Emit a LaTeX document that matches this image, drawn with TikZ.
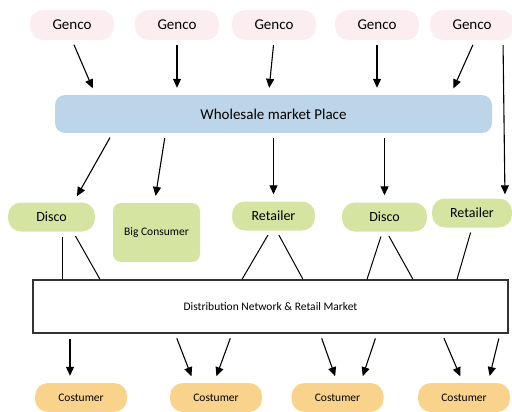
\documentclass[tikz,border=0pt]{standalone}
\usepackage{fontspec}
\setmainfont{Carlito}
\usetikzlibrary{arrows.meta}
\definecolor{gencopink}{HTML}{FCEDF0}
\definecolor{marketblue}{HTML}{BDD5E8}
\definecolor{discogreen}{HTML}{D6E4A2}
\definecolor{custorange}{HTML}{F9D38C}
\tikzset{
	genco/.style={rectangle, rounded corners=13pt, fill=gencopink, minimum width=84pt, minimum height=30pt, font=\fontsize{15}{17}\selectfont},
	seller/.style={rectangle, rounded corners=13pt, fill=discogreen, minimum height=29pt, font=\fontsize{14}{16}\selectfont},
	custbox/.style={rectangle, rounded corners=13pt, fill=custorange, minimum width=92pt, minimum height=29pt, font=\fontsize{11.5}{13}\selectfont},
	arr/.style={line width=1.1pt, -{Triangle[length=9pt,width=8pt]}, shorten <=5pt, shorten >=7pt},
	link/.style={line width=1pt, shorten <=5pt}
}
\begin{document}
\begin{tikzpicture}[x=1pt, y=-1pt]
			\useasboundingbox (0,0) rectangle (512,412);
			%generation companies
			\foreach \x/\n in {72/1, 177/2, 274/3, 377/4, 472/5}{
				\node[genco] (g\n) at (\x, 25){Genco};
			}
			\node[rectangle, rounded corners=10pt, fill=marketblue, minimum width=437pt, minimum height=38pt, font=\fontsize{15}{17}\selectfont] (wm) at (273.5, 114){Wholesale market Place};
			
			\draw[arr] (g1.south) -- ([xshift=-178]wm.north);
			\draw[arr] (g2.south) -- (g2.south |- wm.north);
			\draw[arr] (g3.south) -- ([xshift=-5]wm.north);
			\draw[arr] (g4.south) -- (g4.south |- wm.north);
			\draw[arr] ([xshift=3]g5.south) -- ([xshift=177]wm.north);
			
			%discos, retailers
			\node[seller, minimum width=87pt] (d1) at (51.5, 217){Disco};
			\node[seller, rounded corners=8pt, minimum width=87pt, minimum height=59pt, font=\fontsize{11.5}{13}\selectfont] (bc) at (156.5, 232.5){Big Consumer};
			\node[seller, minimum width=83pt] (r1) at (273.5, 216){Retailer};
			\node[seller, minimum width=85pt] (d2) at (384.5, 217){Disco};
			\node[seller, minimum width=80pt] (r2) at (472, 213){Retailer};
			
			\draw[arr] ([xshift=-161]wm.south) -- ([xshift=22]d1.north);
			\draw[arr] ([xshift=-108]wm.south) -- ([xshift=-2]bc.north);
			\draw[arr] (r1.north |- wm.south) -- (r1.north);
			\draw[arr] (d2.north |- wm.south) -- (d2.north);
			\draw[arr, shorten >=4pt] ([xshift=31]g5.south) -- ([xshift=33]r2.north);
			
			%distribution
			\node[draw=black!80, line width=1.3pt, minimum width=475pt, minimum height=53pt, font=\fontsize{11.5}{13}\selectfont] (dn) at (270.5, 306.5){Distribution Network \& Retail Market};
			
			\draw[link] ([xshift=10.5]d1.south) -- ([xshift=10.5]d1.south |- dn.north);
			\draw[link] ([xshift=21.5]d1.south) -- ([xshift=-170.5]dn.north);
			\draw[link] ([xshift=-3]r1.south) -- ([xshift=-28.5]dn.north);
			\draw[link] ([xshift=3]r1.south) -- ([xshift=32.5]dn.north);
			\draw[link] ([xshift=-2]d2.south) -- ([xshift=96.5]dn.north);
			\draw[link] ([xshift=2]d2.south) -- ([xshift=142.5]dn.north);
			\draw[link] ([xshift=0]r2.south) -- ([xshift=186.5]dn.north);
			
			%costumers
			\foreach \x/\n in {81/1, 216/2, 337.5/3, 464/4}{
				\node[custbox] (c\n) at (\x, 397.5){Costumer};
			}
			
			\draw[arr] ([xshift=-11]c1.north |- dn.south) -- ([xshift=-11]c1.north);
			\draw[arr] ([xshift=-95.5]dn.south) -- ([xshift=-22]c2.north);
			\draw[arr] ([xshift=-38.5]dn.south) -- ([xshift=-2]c2.north);
			\draw[arr] ([xshift=49.5]dn.south) -- ([xshift=0]c3.north);
			\draw[arr] ([xshift=106.5]dn.south) -- ([xshift=23]c3.north);
			\draw[arr] ([xshift=171.5]dn.south) -- ([xshift=-1]c4.north);
			\draw[arr] ([xshift=229.5]dn.south) -- ([xshift=24]c4.north);
		\end{tikzpicture}
\end{document}
